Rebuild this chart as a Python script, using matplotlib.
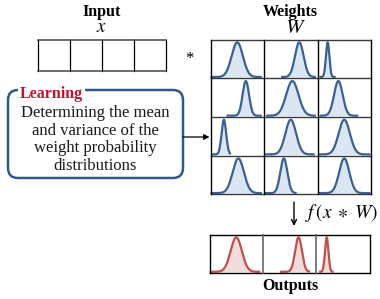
import numpy as np
import matplotlib
matplotlib.use("Agg")
import matplotlib.pyplot as plt
from matplotlib.patches import FancyBboxPatch

plt.rcParams['font.family'] = ['Liberation Serif', 'DejaVu Serif']
plt.rcParams['mathtext.fontset'] = 'stix'

# weight distributions: (mean, sigma, start, end) as fractions of cell width, row by row
weight_mu = [[0.50, 0.66, 0.19],
             [0.66, 0.53, 0.39],
             [0.25, 0.50, 0.50],
             [0.52, 0.37, 0.50]]
weight_sigma = [[0.105, 0.080, 0.032],
                [0.060, 0.115, 0.080],
                [0.043, 0.100, 0.105],
                [0.105, 0.066, 0.095]]
weight_lo = [[0.00, 0.32, 0.04],
             [0.30, 0.04, 0.04],
             [0.02, 0.02, 0.01],
             [0.00, 0.02, 0.02]]
weight_hi = [[0.96, 0.97, 0.34],
             [0.96, 0.97, 0.76],
             [0.38, 0.95, 0.99],
             [0.96, 0.61, 0.99]]

output_mu = [0.50, 0.67, 0.20]
output_sigma = [0.105, 0.064, 0.032]
output_lo = [0.00, 0.32, 0.06]
output_hi = [0.95, 0.89, 0.33]

desc_lines = ["Determining the mean", "and variance of the",
              "weight probability", "distributions"]

blue_line, blue_fill = '#3a6192', '#dce6f2'
red_line, red_fill = '#c0504d', '#f2dcdb'

fig = plt.figure(figsize=(3.8, 2.99), dpi=100)
ax = fig.add_axes([0, 0, 1, 1])
ax.set_xlim(0, 380)
ax.set_ylim(299, 0)
ax.axis('off')


def draw_dist(x0, x1, top, bottom, mu, sigma, lo, hi, lc, fc):
    w = x1 - x0
    f = np.linspace(lo, hi, 200)
    xs = x0 + w * f
    base = bottom - 1.2
    ys = base - (bottom - top - 4.0) * np.exp(-0.5 * ((f - mu) / sigma) ** 2)
    ax.fill_between(xs, ys, base, color=fc, lw=0, zorder=2)
    ax.plot(xs, ys, color=lc, lw=1.6, zorder=3, solid_capstyle='butt')


# input vector
in_x = [38, 70, 102, 134, 166]
in_y = [39.5, 71]
for xv in in_x:
    ax.plot([xv, xv], in_y, color='black', lw=0.9, zorder=4)
ax.plot([in_x[0], in_x[-1]], [in_y[0]] * 2, color='#444444', lw=1.1, zorder=4)
ax.plot([in_x[0], in_x[-1]], [in_y[1]] * 2, color='#444444', lw=1.1, zorder=4)
ax.text(102, 11.5, 'Input', ha='center', va='center', fontsize=11.5, fontweight='bold')
ax.text(101, 28, '$x$', ha='center', va='center', fontsize=13.5)
ax.text(189, 59, '*', ha='center', va='center', fontsize=12)

# weight grid
w_x = [210.5, 264, 317.5, 371]
w_y = [39.5, 78.2, 116.9, 155.6, 194.3]
for r in range(4):
    for c in range(3):
        draw_dist(w_x[c], w_x[c + 1], w_y[r], w_y[r + 1], weight_mu[r][c],
                  weight_sigma[r][c], weight_lo[r][c], weight_hi[r][c],
                  blue_line, blue_fill)
for yv in w_y:
    ax.plot([w_x[0], w_x[-1]], [yv, yv], color='#3a3a3a', lw=1.0, zorder=4)
for xv in w_x:
    ax.plot([xv, xv], [w_y[0], w_y[-1]], color='black', lw=1.0, zorder=4)
ax.text(290, 11.5, 'Weights', ha='center', va='center', fontsize=11.5, fontweight='bold')
ax.text(295, 28.5, '$W$', ha='center', va='center', fontsize=15)

# learning box
box = FancyBboxPatch((8, 90), 175, 88, boxstyle='round,pad=0,rounding_size=10',
                     fc='white', ec='#2f5b8c', lw=1.8, zorder=2)
ax.add_patch(box)
ax.text(20, 94.5, 'Learning', ha='left', va='center', fontsize=11.5,
        fontweight='bold', color='#c8102e', zorder=3,
        bbox=dict(fc='white', ec='none', pad=1.5))
for i, line in enumerate(desc_lines):
    ax.text(95.5, 113 + i * 17.6, line, ha='center', va='center', fontsize=12, color='#1a1a1a')
ax.annotate('', xy=(209.5, 137), xytext=(183, 137),
            arrowprops=dict(arrowstyle='-|>', color='black', lw=0.9,
                            mutation_scale=8, shrinkA=0, shrinkB=0))

# output arrow and label
ax.annotate('', xy=(294, 226), xytext=(294, 202),
            arrowprops=dict(arrowstyle='->', color='black', lw=1.0,
                            mutation_scale=9, shrinkA=0, shrinkB=0))
ax.text(305, 213, '$f\\,(x\\;\\ast\\;W)$', ha='left', va='center', fontsize=14)

# outputs
o_x = [209.5, 263, 316, 369.5]
o_y = [234.5, 273]
for c in range(3):
    draw_dist(o_x[c], o_x[c + 1], o_y[0], o_y[1], output_mu[c], output_sigma[c],
              output_lo[c], output_hi[c], red_line, red_fill)
ax.plot([o_x[0], o_x[-1]], [o_y[0]] * 2, color='black', lw=1.0, zorder=4)
ax.plot([o_x[0], o_x[-1]], [o_y[1]] * 2, color='black', lw=1.0, zorder=4)
ax.plot([o_x[0]] * 2, o_y, color='black', lw=1.0, zorder=4)
ax.plot([o_x[-1]] * 2, o_y, color='black', lw=1.0, zorder=4)
for xv in o_x[1:-1]:
    ax.plot([xv, xv], o_y, color='#666666', lw=1.2, zorder=4)
ax.text(290, 286.5, 'Outputs', ha='center', va='center', fontsize=11.5, fontweight='bold')

fig.savefig('out.png', dpi=100)
